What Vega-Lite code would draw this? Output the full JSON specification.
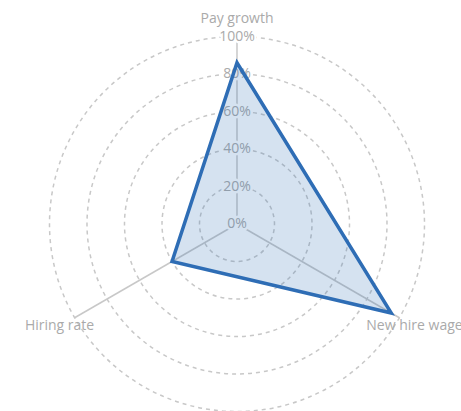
{
  "$schema": "https://vega.github.io/schema/vega-lite/v6.json",
  "width": 461,
  "height": 411,
  "padding": 0,
  "autosize": {"type": "none"},
  "background": "white",
  "config": {"view": {"stroke": null}, "text": {"font": "Open Sans"}},
  "datasets": {
    "axes": [
      {"axis": "Pay growth", "value": 86, "order": 0},
      {"axis": "New hire wage", "value": 95, "order": 1},
      {"axis": "Hiring rate", "value": 40, "order": 2}
    ],
    "grid": [
      {"pct": 0, "label": "0%"},
      {"pct": 20, "label": "20%"},
      {"pct": 40, "label": "40%"},
      {"pct": 60, "label": "60%"},
      {"pct": 80, "label": "80%"},
      {"pct": 100, "label": "100%"}
    ]
  },
  "layer": [
    {
      "data": {"name": "grid"},
      "transform": [{"filter": "datum.pct > 0"}, {"calculate": "0", "as": "c"}],
      "mark": {"type": "arc", "filled": false, "stroke": "#c8c8c8", "strokeWidth": 1.5, "strokeDash": [4, 4], "theta": 0, "theta2": 6.2832},
      "encoding": {
        "x": {"field": "c", "type": "quantitative", "scale": {"domain": [-126.4, 119.47], "nice": false, "zero": false}, "axis": null},
        "y": {"field": "c", "type": "quantitative", "scale": {"domain": [-99.73, 119.47], "nice": false, "zero": false}, "axis": null},
        "radius": {"field": "pct", "type": "quantitative", "stack": null, "scale": {"type": "linear", "domain": [0, 100], "range": [0, 187.5], "zero": true}}
      }
    },
    {
      "data": {"name": "axes"},
      "transform": [
        {"calculate": "0", "as": "c"},
        {"calculate": "PI/2 - datum.order*2*PI/3", "as": "a"},
        {"calculate": "100*cos(datum.a)", "as": "ex"},
        {"calculate": "100*sin(datum.a)", "as": "ey"}
      ],
      "mark": {"type": "rule", "color": "#c8c8c8", "strokeWidth": 1.5},
      "encoding": {
        "x": {"field": "c", "type": "quantitative"},
        "y": {"field": "c", "type": "quantitative"},
        "x2": {"field": "ex"},
        "y2": {"field": "ey"}
      }
    },
    {
      "data": {"name": "grid"},
      "transform": [{"calculate": "0", "as": "c"}],
      "mark": {"type": "text", "color": "white", "stroke": "white", "strokeWidth": 5, "fontSize": 14, "align": "center", "baseline": "middle"},
      "encoding": {
        "x": {"field": "c", "type": "quantitative"},
        "y": {"field": "pct", "type": "quantitative"},
        "text": {"field": "label", "type": "nominal"}
      }
    },
    {
      "data": {"name": "grid"},
      "transform": [{"calculate": "0", "as": "c"}],
      "mark": {"type": "text", "color": "#aaaaaa", "fontSize": 14, "align": "center", "baseline": "middle"},
      "encoding": {
        "x": {"field": "c", "type": "quantitative"},
        "y": {"field": "pct", "type": "quantitative"},
        "text": {"field": "label", "type": "nominal"}
      }
    },
    {
      "data": {"name": "axes"},
      "transform": [
        {"calculate": "PI/2 - datum.order*2*PI/3", "as": "a"},
        {"calculate": "datum.value*cos(datum.a)", "as": "px"},
        {"calculate": "datum.value*sin(datum.a)", "as": "py"}
      ],
      "mark": {"type": "line", "interpolate": "linear-closed", "stroke": "#2e6db5", "strokeWidth": 3.5, "fill": "#2e6db5", "fillOpacity": 0.2},
      "encoding": {
        "x": {"field": "px", "type": "quantitative"},
        "y": {"field": "py", "type": "quantitative"},
        "order": {"field": "order", "type": "quantitative"}
      }
    },
    {
      "data": {"name": "axes"},
      "transform": [
        {"calculate": "PI/2 - datum.order*2*PI/3", "as": "a"},
        {"calculate": "109.3*cos(datum.a)", "as": "lx"},
        {"calculate": "109.3*sin(datum.a)", "as": "ly"}
      ],
      "mark": {"type": "text", "color": "#aaaaaa", "fontSize": 14, "align": "center", "baseline": "middle"},
      "encoding": {
        "x": {"field": "lx", "type": "quantitative"},
        "y": {"field": "ly", "type": "quantitative"},
        "text": {"field": "axis", "type": "nominal"}
      }
    }
  ]
}
